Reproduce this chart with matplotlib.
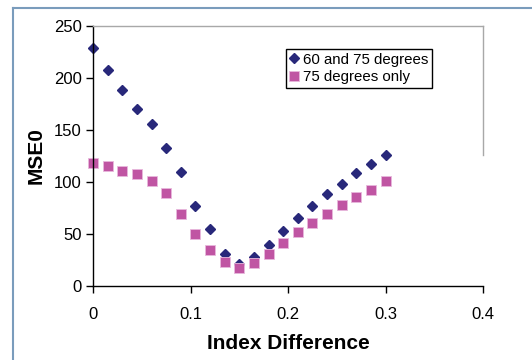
import matplotlib
matplotlib.use('Agg')
import matplotlib.pyplot as plt
from matplotlib.lines import Line2D

plt.rcParams['font.family'] = ['Liberation Sans', 'DejaVu Sans']

# Index difference steps
index_diff = [0, 0.015, 0.03, 0.045, 0.06, 0.075, 0.09, 0.105, 0.12, 0.135, 0.15,
              0.165, 0.18, 0.195, 0.21, 0.225, 0.24, 0.255, 0.27, 0.285, 0.3]
mse_60_75 = [228.5, 208, 188.4, 170, 155.6, 132.9, 110, 76.7, 55.2, 31.1, 21.5,
             27.6, 39.5, 52.6, 65.5, 77.3, 88.3, 98.5, 108.2, 117.5, 126.1]
mse_75 = [118.7, 115.5, 111, 107.8, 101.4, 89.2, 69.3, 50.4, 35, 22.8, 17.3,
          22.1, 31.1, 41.1, 51.7, 60.3, 69.3, 77.7, 85.7, 92.7, 100.8]
labels = ['60 and 75 degrees', '75 degrees only']

fig = plt.figure(figsize=(5.32, 3.6), dpi=100)
ax = fig.add_axes([0.1748, 0.2056, 0.7332, 0.7222])

ax.plot(index_diff, mse_60_75, linestyle='none', marker='D', markersize=5.5,
        color='#28287a', label=labels[0], clip_on=False)
ax.plot(index_diff, mse_75, linestyle='none', marker='s', markersize=7,
        color='#c055a3', markeredgecolor='#e8b8dc', markeredgewidth=0.6,
        label=labels[1], clip_on=False)

ax.set_xlim(0, 0.4)
ax.set_ylim(0, 250)
ax.set_xticks([0, 0.1, 0.2, 0.3, 0.4])
ax.set_xticklabels(['0', '0.1', '0.2', '0.3', '0.4'])
ax.set_yticks([0, 50, 100, 150, 200, 250])
ax.tick_params(direction='out', length=5, width=1, labelsize=12)
ax.tick_params(axis='x', pad=10)
ax.tick_params(axis='y', pad=3)

for side in ['left', 'bottom']:
    ax.spines[side].set_color('black')
    ax.spines[side].set_linewidth(1.0)
for side in ['top', 'right']:
    ax.spines[side].set_color('#a8a8a8')
    ax.spines[side].set_linewidth(1.0)
ax.spines['right'].set_bounds(126, 250)

ax.set_xlabel('Index Difference', fontsize=15, fontweight='bold', labelpad=9)
ax.set_ylabel('MSE0', fontsize=15, fontweight='bold', labelpad=6)

leg = ax.legend(loc='upper left', bbox_to_anchor=(0.495, 0.912), borderaxespad=0,
                fontsize=10.8, fancybox=False, framealpha=1, edgecolor='black',
                handlelength=0.6, handletextpad=0.3, borderpad=0.25, labelspacing=0.25)
leg.get_frame().set_linewidth(1.0)

# outer border (light blue frame)
fig.add_artist(Line2D([13 / 532, 13 / 532], [0, 1 - 8 / 360],
                      transform=fig.transFigure, color='#7a9cbc', linewidth=1.5))
fig.add_artist(Line2D([13 / 532, 1], [1 - 8 / 360, 1 - 8 / 360],
                      transform=fig.transFigure, color='#7a9cbc', linewidth=1.5))

fig.savefig('out.png', dpi=100)
